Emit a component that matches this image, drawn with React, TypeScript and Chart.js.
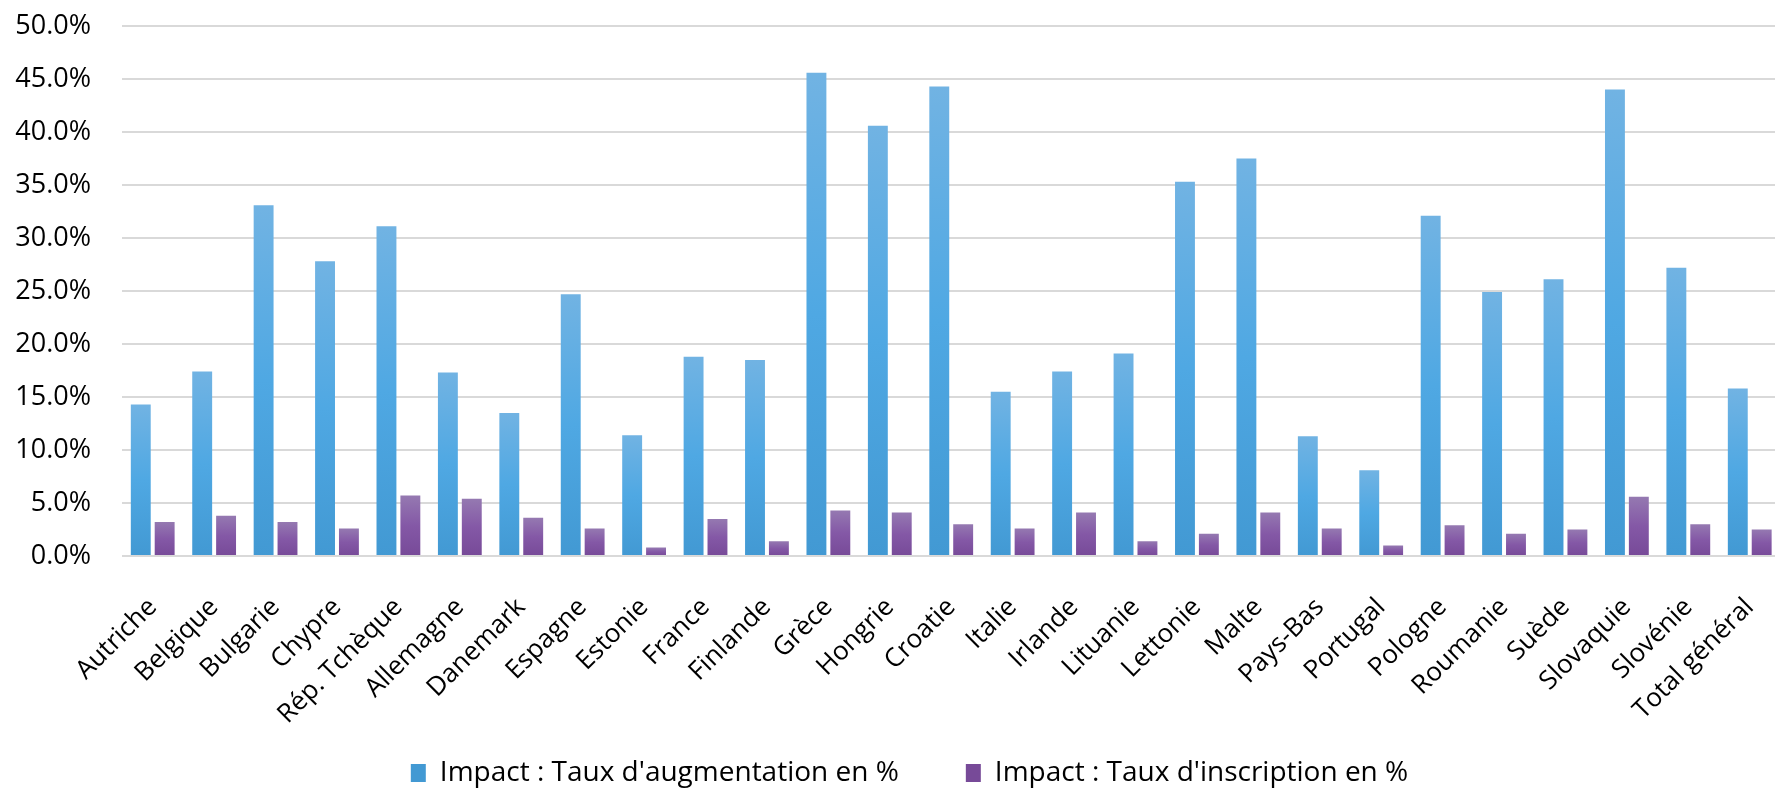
import React, { useEffect, useRef } from 'react';
import { Chart, registerables } from 'chart.js';

Chart.register(...registerables);

const categories = [
  'Autriche', 'Belgique', 'Bulgarie', 'Chypre', 'Rép. Tchèque', 'Allemagne', 'Danemark',
  'Espagne', 'Estonie', 'France', 'Finlande', 'Grèce', 'Hongrie', 'Croatie', 'Italie',
  'Irlande', 'Lituanie', 'Lettonie', 'Malte', 'Pays-Bas', 'Portugal', 'Pologne',
  'Roumanie', 'Suède', 'Slovaquie', 'Slovénie', 'Total général',
];

const tauxAugmentation = [
  14.3, 17.4, 33.1, 27.8, 31.1, 17.3, 13.5,
  24.7, 11.4, 18.8, 18.5, 45.6, 40.6, 44.3, 15.5,
  17.4, 19.1, 35.3, 37.5, 11.3, 8.1, 32.1,
  24.9, 26.1, 44.0, 27.2, 15.8,
];

const tauxInscription = [
  3.2, 3.8, 3.2, 2.6, 5.7, 5.4, 3.6,
  2.6, 0.8, 3.5, 1.4, 4.3, 4.1, 3.0, 2.6,
  4.1, 1.4, 2.1, 4.1, 2.6, 1.0, 2.9,
  2.1, 2.5, 5.6, 3.0, 2.5,
];

const seriesLabels = [
  "Impact : Taux d'augmentation en %",
  "Impact : Taux d'inscription en %",
];

const yMin = 0;
const yMax = 50;
const yStep = 5;

const LEGEND_DX = 15;
const LEGEND_TOP = 692;

function barGradient(stops: [number, string][], fallback: string) {
  return (c: any) => {
    const chart = c.chart;
    if (c.type !== 'data' || !chart.chartArea || !c.parsed) return fallback;
    const y = chart.scales.y;
    const yTop = y.getPixelForValue(c.parsed.y);
    const yBot = y.getPixelForValue(0);
    if (!isFinite(yTop) || !isFinite(yBot) || yTop === yBot) return fallback;
    const g = chart.ctx.createLinearGradient(0, yTop, 0, yBot);
    stops.forEach(([o, col]) => g.addColorStop(o, col));
    return g;
  };
}

const legendShift = {
  id: 'legendShift',
  afterLayout(chart: any) {
    const l = chart.legend;
    if (l) {
      l.left += LEGEND_DX;
      l.right += LEGEND_DX;
      l.top = LEGEND_TOP;
      l.bottom = chart.height;
    }
  },
};

export default function App() {
  const ref = useRef<HTMLCanvasElement>(null);

  useEffect(() => {
    const canvas = ref.current;
    if (!canvas) return;
    const chart = new Chart(canvas, {
      type: 'bar',
      data: {
        labels: categories,
        datasets: [
          {
            label: seriesLabels[0],
            data: tauxAugmentation,
            backgroundColor: barGradient(
              [[0, '#71b3e3'], [0.5, '#4fa8e3'], [1, '#4299d3']],
              '#56a8e0'
            ),
            borderWidth: 0,
            categoryPercentage: 0.778,
            barPercentage: 0.833,
          },
          {
            label: seriesLabels[1],
            data: tauxInscription,
            backgroundColor: barGradient(
              [[0, '#9579b1'], [0.5, '#8458a6'], [1, '#774a98']],
              '#8560a8'
            ),
            borderWidth: 0,
            categoryPercentage: 0.778,
            barPercentage: 0.833,
          },
        ],
      },
      options: {
        responsive: false,
        animation: false,
        events: [],
        layout: { padding: { top: 26, right: 11, bottom: 2, left: 0 } },
        plugins: {
          legend: {
            position: 'bottom',
            maxHeight: 42,
            labels: {
              font: { family: 'Open Sans', size: 28 },
              color: '#000000',
              boxWidth: 15,
              boxHeight: 18,
              padding: 67,
            },
          },
          tooltip: { enabled: false },
          title: { display: false },
        },
        scales: {
          x: {
            grid: { display: false },
            border: { display: false },
            ticks: {
              font: { family: 'Open Sans', size: 26 },
              color: '#000000',
              minRotation: 45,
              maxRotation: 45,
              autoSkip: false,
              padding: 28,
              labelOffset: 0,
            },
            afterFit: (s: any) => {
              s.height = 200;
            },
          },
          y: {
            min: yMin,
            max: yMax,
            grid: { color: '#d9d9d9', lineWidth: 2, drawTicks: false },
            border: { display: false },
            ticks: {
              stepSize: yStep,
              font: { family: 'Open Sans', size: 27 },
              color: '#000000',
              padding: 31,
              callback: (v: any) => Number(v).toFixed(1) + '%',
            },
            afterFit: (s: any) => {
              s.width = 122;
              s.paddingTop = 12;
              s.paddingBottom = 12;
            },
          },
        },
      },
      plugins: [legendShift],
    });
    return () => chart.destroy();
  }, []);

  return (
    <div
      style={{
        position: 'fixed',
        left: 0,
        top: 0,
        width: 1775,
        height: 788,
        overflow: 'hidden',
        background: '#ffffff',
      }}
    >
      <canvas ref={ref} width={1800} height={800} style={{ display: 'block' }} />
    </div>
  );
}
